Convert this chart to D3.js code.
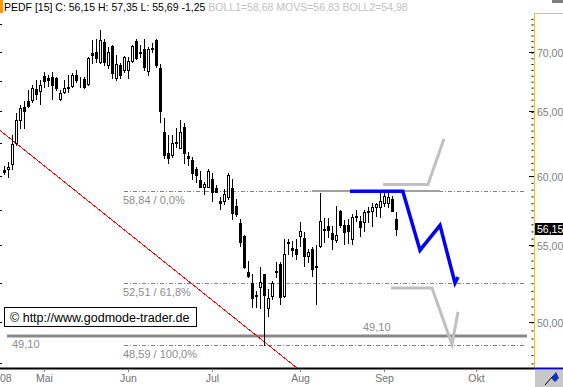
<!DOCTYPE html>
<html lang="de">
<head>
<meta charset="utf-8">
<title>PEDF [15]</title>
<script src="https://cdn.jsdelivr.net/npm/d3@7/dist/d3.min.js"></script>
<style>
  body { margin: 0; background: #fff; }
  svg { display: block; font-family: Arial, "Liberation Sans", sans-serif; }
</style>
</head>
<body>
<script>

// size of the picture and plot panel
var w = 563, h = 387;
var left = 0, right = 534, top_ = 13, bottom = 368;

// daily candles (index 0 = first visible day)
var opens  = [60.45,60.46,60.91,62.52,64.32,65.37,65.86,65.94,66.85,66.68,
              67.94,67.77,67.85,67.77,65.99,66.60,67.05,67.10,68.02,67.45,
              67.68,67.26,69.91,70.00,69.13,70.88,68.87,70.53,67.77,68.87,
              68.44,68.44,69.22,70.97,70.00,70.26,68.35,70.30,71.06,68.61,
              63.38,61.74,61.59,62.50,62.13,63.77,61.51,61.21,60.53,59.64,
              59.12,59.19,59.71,59.05,58.10,58.10,58.39,59.05,57.74,56.53,
              55.62,53.20,52.48,51.71,52.22,53.07,50.89,51.64,53.20,53.73,
              51.64,55.15,54.81,54.74,55.62,55.49,54.26,54.74,53.55,54.94,
              56.08,56.32,55.83,55.35,57.38,56.39,56.39,55.42,57.00,56.67,
              56.60,57.35,57.38,57.67,57.67,57.95,58.02,58.24,56.85];
var highs  = [60.70,61.06,63.14,64.90,65.53,65.85,66.76,67.18,67.60,67.60,
              68.28,68.02,68.28,67.85,66.76,67.60,68.02,68.19,68.44,67.85,
              67.85,69.55,71.06,71.15,71.95,71.15,70.44,70.61,69.74,69.04,
              69.65,69.57,70.61,71.15,70.61,71.15,70.44,70.79,71.15,68.96,
              64.48,63.14,63.14,63.69,64.32,64.08,61.82,61.44,60.68,60.31,
              59.56,60.46,60.23,59.27,58.39,58.97,60.23,59.71,58.24,56.81,
              55.69,53.93,53.07,51.96,53.53,53.10,52.09,52.61,53.86,53.86,
              55.42,55.42,55.28,55.42,56.60,55.90,54.74,54.87,55.00,58.68,
              56.88,56.88,56.32,57.74,57.45,56.74,56.81,57.17,57.45,57.03,
              57.45,57.67,57.95,58.02,58.82,58.75,58.75,58.46,57.35];
var lows   = [60.15,59.86,60.46,62.36,63.69,63.69,65.37,65.78,65.99,65.61,
              67.01,67.10,65.99,66.76,65.95,66.51,66.60,67.01,67.43,67.01,
              66.93,67.18,69.04,69.13,69.04,68.87,68.61,67.77,67.60,67.77,
              68.28,67.77,69.13,69.40,69.57,68.44,68.02,70.00,68.70,64.16,
              61.36,60.98,61.44,62.21,62.10,60.98,60.83,59.71,59.56,59.12,
              58.61,59.12,58.10,58.75,57.52,57.88,58.24,56.81,57.03,54.94,
              53.47,52.87,50.95,50.95,50.89,48.59,50.39,51.45,52.87,51.14,
              51.58,54.40,54.26,54.06,54.94,53.60,53.86,52.94,51.14,54.90,
              55.21,55.55,54.74,55.21,56.25,55.08,55.15,55.08,56.67,55.62,
              55.97,56.60,56.32,57.03,56.95,57.74,57.67,57.38,55.69];
var closes = [60.30,60.68,62.44,64.32,65.29,65.05,65.45,66.93,66.43,67.18,
              67.52,67.60,67.18,66.93,66.51,66.93,66.93,68.02,67.60,67.40,
              67.01,69.48,69.74,69.48,71.06,69.13,70.00,68.19,68.96,68.02,
              69.57,69.22,70.53,69.48,69.91,68.70,70.26,70.35,68.87,65.05,
              61.59,61.36,62.52,62.55,63.38,61.74,61.36,60.23,60.08,59.19,
              59.34,60.38,58.82,58.82,57.95,58.61,60.08,57.24,57.17,55.21,
              53.53,52.94,51.52,51.64,52.55,51.71,51.52,52.48,53.25,51.58,
              54.40,55.20,54.67,54.40,55.97,54.26,54.53,53.40,53.60,56.67,
              56.14,56.04,55.42,55.69,56.39,55.90,55.97,56.95,57.05,56.25,
              57.31,57.40,57.67,57.88,58.10,58.46,58.39,57.40,56.15];

// x axis: month labels at their first trading day (day index)
var monthNames = ["08", "Mai", "Jun", "Jul", "Aug", "Sep", "Okt"];
var monthDays  = [-1, 10, 31, 52, 74, 95, 118];

// y axis
var priceTicks  = [50, 55, 60, 65, 70];
var priceLabels = ["50,00", "55,00", "60,00", "65,00", "70,00"];
var lastPrice = 56.15, lastLabel = "56,15";

// fibonacci retracement levels
var fibPrices = [58.84, 52.51, 48.59];
var fibLabels = ["58,84 / 0,0%", "52,51 / 61,8%", "48,59 / 100,0%"];
var fibFrom = 30, fibTo = 130;

// support line
var supportPrice = 49.10, supportLabel = "49,10";

// resistance line drawn under the forecast
var resistDays = [77, 109], resistPrice = 58.84;

// blue forecast path
var forecastDays   = [86.5, 99.7, 104, 109, 112.75, 113.5];
var forecastPrices = [58.84, 58.84, 54.67, 56.39, 52.48, 52.87];

// grey alternative scenarios
var upDays = [94.75, 106, 110], upPrices = [59.34, 59.34, 62.83];
var downDays = [96.75, 107, 112, 113.5], downPrices = [52.16, 52.16, 48.61, 50.63];

// red downtrend line
var trendDays = [-1, 73.25], trendPrices = [63.48, 47.2];

var header = "PEDF [15] C: 56,15 H: 57,35 L: 55,69 -1,25";
var headerInd = " BOLL1=58,68 MOVS=56,83 BOLL2=54,98";

var xScale = d3.scaleLinear().domain([-1, 132.5]).range([left, right]);
var yScale = d3.scaleLog().domain([47.2, 73.49]).range([bottom, top_]);

function px(v) { return Math.round(v); }

var svg = d3.select("body").append("svg")
  .attr("width", w).attr("height", h);

svg.append("rect").attr("width", w).attr("height", h).attr("fill", "#fff");

svg.append("clipPath").attr("id", "plot")
  .append("rect").attr("x", left).attr("y", top_)
  .attr("width", right - left).attr("height", bottom - top_);

var plot = svg.append("g").attr("clip-path", "url(#plot)");

// fib lines
fibPrices.forEach(function(p, k) {
  var y = px(yScale(p)) + 0.5;
  plot.append("line")
    .attr("x1", xScale(fibFrom)).attr("x2", xScale(fibTo))
    .attr("y1", y).attr("y2", y)
    .attr("stroke", "#808080").attr("stroke-width", 1)
    .attr("stroke-dasharray", "4,2,1,2");
  plot.append("text")
    .attr("x", xScale(fibFrom) - 1).attr("y", y + 12)
    .attr("font-size", "11px").attr("fill", "#8c8c8c")
    .text(fibLabels[k]);
});

// support line
var ys = px(yScale(supportPrice));
plot.append("line")
  .attr("x1", xScale(0.75)).attr("x2", xScale(130.75))
  .attr("y1", ys).attr("y2", ys)
  .attr("stroke", "#888").attr("stroke-width", 3);
plot.append("text").attr("x", 12).attr("y", ys + 12)
  .attr("font-size", "11px").attr("fill", "#8c8c8c").text(supportLabel);
plot.append("text").attr("x", 363).attr("y", ys - 5)
  .attr("font-size", "11px").attr("fill", "#8c8c8c").text(supportLabel);

// resistance line
var yr = px(yScale(resistPrice));
plot.append("line")
  .attr("x1", xScale(resistDays[0])).attr("x2", xScale(resistDays[1]))
  .attr("y1", yr).attr("y2", yr)
  .attr("stroke", "#a0a0a0").attr("stroke-width", 2);

// red trend line
plot.append("line")
  .attr("x1", xScale(trendDays[0])).attr("y1", yScale(trendPrices[0]))
  .attr("x2", xScale(trendDays[1])).attr("y2", yScale(trendPrices[1]))
  .attr("stroke", "#ff0000").attr("stroke-width", 1)
  .attr("shape-rendering", "crispEdges");

// candles
var candles = plot.selectAll("g.candle")
  .data(d3.range(opens.length))
  .enter().append("g").attr("class", "candle");

candles.append("line")
  .attr("x1", function(i) { return px(xScale(i)) + 0.5; })
  .attr("x2", function(i) { return px(xScale(i)) + 0.5; })
  .attr("y1", function(i) { return px(yScale(highs[i])); })
  .attr("y2", function(i) { return px(yScale(lows[i])) + 1; })
  .attr("stroke", "#000").attr("stroke-width", 1);

candles.append("rect")
  .attr("x", function(i) { return px(xScale(i)) - 0.5; })
  .attr("y", function(i) { return px(yScale(Math.max(opens[i], closes[i]))) + 0.5; })
  .attr("width", 2)
  .attr("height", function(i) {
    return Math.max(0, px(yScale(Math.min(opens[i], closes[i]))) - px(yScale(Math.max(opens[i], closes[i]))));
  })
  .attr("fill", function(i) { return closes[i] >= opens[i] ? "#fff" : "#000"; })
  .attr("stroke", "#000").attr("stroke-width", 1);

// grey scenarios
var line = d3.line()
  .x(function(d) { return xScale(d[0]); })
  .y(function(d) { return yScale(d[1]); });

plot.append("path")
  .attr("d", line(d3.zip(upDays, upPrices)))
  .attr("fill", "none").attr("stroke", "#c0c0c0").attr("stroke-width", 3);
plot.append("path")
  .attr("d", line(d3.zip(downDays, downPrices)))
  .attr("fill", "none").attr("stroke", "#c0c0c0").attr("stroke-width", 3);

// blue forecast
plot.append("path")
  .attr("d", line(d3.zip(forecastDays, forecastPrices)))
  .attr("fill", "none").attr("stroke", "#0000ff").attr("stroke-width", 3.5);

// copyright box
svg.append("rect").attr("x", 4.5).attr("y", 307.5)
  .attr("width", 192).attr("height", 19)
  .attr("fill", "#fff").attr("stroke", "#000");
svg.append("text").attr("x", 10).attr("y", 322)
  .attr("font-size", "12.5px").attr("fill", "#000")
  .text("\u00a9 http://www.godmode-trader.de");

// left small ticks every 2.5
d3.range(47.5, 73, 2.5).forEach(function(p) {
  var y = px(yScale(p)) + 0.5;
  svg.append("line").attr("x1", 0).attr("x2", 2)
    .attr("y1", y).attr("y2", y).attr("stroke", "#000");
});

// right axis
var yAxis = d3.axisLeft(yScale)
  .tickValues(d3.range(47.5, 73.5, 0.5))
  .tickSize(2).tickFormat("");
svg.append("g").attr("transform", "translate(" + (right - 0.5) + ",0.5)")
  .call(yAxis)
  .call(function(g) { g.select(".domain").remove(); });

priceTicks.forEach(function(p, k) {
  var y = px(yScale(p)) + 0.5;
  svg.append("line").attr("x1", right - 5).attr("x2", right)
    .attr("y1", y).attr("y2", y).attr("stroke", "#000");
  svg.append("text").attr("x", right + 3).attr("y", y + 4)
    .attr("font-size", "10.5px").attr("fill", "#808080")
    .text(priceLabels[k]);
});

svg.append("line").attr("x1", right + 0.5).attr("x2", right + 0.5)
  .attr("y1", top_).attr("y2", bottom)
  .attr("stroke", "#f5c400").attr("stroke-width", 1);
svg.append("line").attr("x1", right).attr("x2", w)
  .attr("y1", top_ + 0.5).attr("y2", top_ + 0.5)
  .attr("stroke", "#f5c400").attr("stroke-width", 1);

// last price box
var yl = px(yScale(lastPrice));
svg.append("rect").attr("x", right + 1).attr("y", yl - 6)
  .attr("width", w - right - 1).attr("height", 12).attr("fill", "#000");
svg.append("text").attr("x", right + 3).attr("y", yl + 4)
  .attr("font-size", "10.5px").attr("fill", "#fff").text(lastLabel);

// bottom frame and x axis
svg.append("line").attr("x1", 0).attr("x2", right)
  .attr("y1", bottom + 0.5).attr("y2", bottom + 0.5)
  .attr("stroke", "#000").attr("stroke-width", 2);
svg.append("line").attr("x1", right).attr("x2", w)
  .attr("y1", bottom + 0.5).attr("y2", bottom + 0.5)
  .attr("stroke", "#0000cc").attr("stroke-width", 2);

var xAxis = svg.append("g");
monthDays.forEach(function(d, k) {
  var x = px(xScale(d)) + 0.5;
  if (k > 0) {
    xAxis.append("line").attr("x1", x).attr("x2", x)
      .attr("y1", bottom + 1).attr("y2", bottom + 4).attr("stroke", "#808080");
  }
  xAxis.append("text").attr("x", k === 0 ? 0 : x).attr("y", 382)
    .attr("text-anchor", k === 0 ? "start" : "middle")
    .attr("font-size", "10.5px").attr("fill", "#707070")
    .text(monthNames[k]);
});

// corner button
svg.append("rect").attr("x", right + 1).attr("y", bottom + 2)
  .attr("width", w - right - 1).attr("height", h - bottom - 2)
  .attr("fill", "#c8c8c8");
svg.append("line").attr("x1", 545).attr("y1", 385).attr("x2", 553).attr("y2", 376)
  .attr("stroke", "#000");
svg.append("path").attr("d", "M551,378 L556,372 L559,378 L555,382 Z")
  .attr("fill", "#1030c0");

// header
svg.append("rect").attr("x", 0).attr("y", 0).attr("width", 3).attr("height", 13)
  .attr("fill", "#ff9900");
var ht = svg.append("text").attr("x", 4).attr("y", 11).attr("font-size", "10.5px");
ht.append("tspan").attr("fill", "#000").text(header);
ht.append("tspan").attr("fill", "#c0c0c0").text(headerInd);
svg.append("rect").attr("x", 552).attr("y", 0).attr("width", 11).attr("height", 3)
  .attr("fill", "#808080");

</script>
</body>
</html>
